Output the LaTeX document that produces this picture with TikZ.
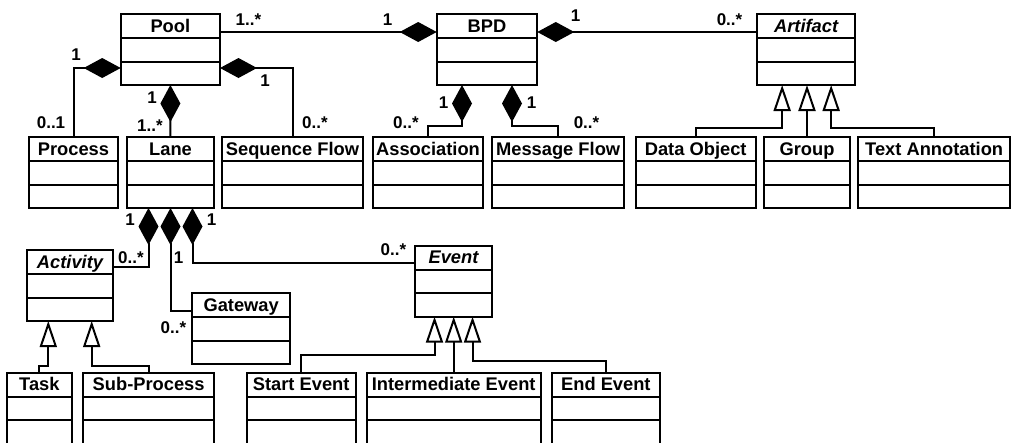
\documentclass[tikz,border=0pt]{standalone}
\usepackage{fontspec}
\setmainfont{Liberation Sans}
\usetikzlibrary{arrows.meta,calc}
\tikzset{
  clsbox/.style={draw, line width=2pt, rectangle, minimum height=71pt, inner sep=0pt, outer sep=0pt, anchor=north west},
  clstitle/.style={inner sep=0pt, anchor=base, font=\fontsize{18.3}{20}\selectfont\bfseries},
  abstract/.style={font=\fontsize{18.3}{20}\selectfont\bfseries\itshape},
  mult/.style={inner sep=0pt, anchor=base, font=\fontsize{17}{19}\selectfont\bfseries},
  compline/.style={line width=2pt},
  comp/.style={compline, -{Diamond[length=37pt,width=20pt,fill=black]}},
  compstart/.style={compline, {Diamond[length=37pt,width=20pt,fill=black]}-},
  gen/.style={compline, -{Triangle[open,length=26pt,width=17pt,fill=white]}},
}
\newcommand\umlclass[6][clstitle]{%
  \node[clsbox, minimum width={#5-#3}] (#2) at (#3,#4) {};
  \node[#1] (#2-title) at ($(#2.north)+(0,18)$) {#6};
  \draw[compline] ($(#2.north west)+(0,24)$) -- ($(#2.north east)+(0,24)$);
  \draw[compline] ($(#2.north west)+(0,47.5)$) -- ($(#2.north east)+(0,47.5)$);
}
\begin{document}
\begin{tikzpicture}[x=1pt, y=-1pt]
\useasboundingbox (0,0) rectangle (1011,442);
\fill[white] (0,0) rectangle (1011,442);
\clip (0,0) rectangle (1011,442);
% top row
\umlclass{pool}{120.7}{14}{220}{Pool}
\umlclass{bpd}{436.7}{14}{537.3}{BPD}
\umlclass[clstitle,abstract]{artifact}{757}{14}{855.3}{Artifact}
% second row
\umlclass{process}{29}{137}{118}{Process}
\umlclass{lane}{127}{137}{214}{Lane}
\umlclass{seqflow}{222}{137}{363}{Sequence Flow}
\umlclass{assoc}{372.7}{137}{483.3}{Association}
\umlclass{msgflow}{492.3}{137}{624}{Message Flow}
\umlclass{dataobj}{635.7}{137}{755.7}{Data Object}
\umlclass{group}{764}{137}{850}{Group}
\umlclass{textann}{858.3}{137}{1010}{Text Annotation}
% third row
\umlclass[clstitle,abstract]{activity}{26.7}{250}{113.3}{Activity}
\umlclass{gateway}{192.3}{293.3}{290}{Gateway}
\umlclass[clstitle,abstract]{event}{415.3}{245.7}{491.7}{Event}
% bottom row
\umlclass{task}{6.7}{372.5}{72}{Task}
\umlclass{subproc}{83.3}{372.5}{214}{Sub-Process}
\umlclass{start}{246.7}{372.5}{355.7}{Start Event}
\umlclass{inter}{366.7}{372.5}{540.7}{Intermediate Event}
\umlclass{endev}{551.7}{372.5}{660}{End Event}

% compositions
\draw[comp] ($(pool.north east)+(0,18)$) -- ($(bpd.north west)+(0,18)$);
\draw[compstart] ($(bpd.north east)+(0,18)$) -- ($(artifact.north west)+(0,18)$);
\draw[comp] (process.north) |- ($(pool.north west)+(0,54)$);
\draw[comp] (seqflow.north) |- ($(pool.north east)+(0,54)$);
\draw[comp] (lane.north) -- (pool.south);
\draw[comp] (assoc.north) -- ++(0,-11) -| ($(bpd.south)+(-25,0)$);
\draw[comp] (msgflow.north) -- ++(0,-11) -| ($(bpd.south)+(25,0)$);
\draw[comp] ($(activity.north east)+(0,17.3)$) -| ($(lane.south)+(-22,0)$);
\draw[comp] ($(gateway.north west)+(0,17.4)$) -| (lane.south);
\draw[comp] ($(event.north west)+(0,17.6)$) -| ($(lane.south)+(22,0)$);

% generalizations
\draw[gen] (dataobj.north) -- ++(0,-9.3) -| ($(artifact.south)+(-24,0)$);
\draw[gen] (group.north) -- (group.north |- artifact.south);
\draw[gen] (textann.north) -- ++(0,-9.3) -| ($(artifact.south)+(25,0)$);
\draw[gen] (task.north) -- ++(0,-6.7) -| ($(activity.south)+(-21.7,0)$);
\draw[gen] (subproc.north) -- ++(0,-6.7) -| ($(activity.south)+(21.7,0)$);
\draw[gen] (start.north) -- ++(0,-17.5) -| ($(event.south)+(-19,0)$);
\draw[gen] (inter.north) -- (inter.north |- event.south);
\draw[gen] (endev.north) -- ++(0,-11.5) -| ($(event.south)+(19,0)$);

% multiplicities
\node[mult] (m1) at (248.5,25) {1..*};
\node[mult] (m2) at (387.5,25) {1};
\node[mult] (m3) at (575.5,21.7) {1};
\node[mult] (m4) at (729.5,25) {0..*};
\node[mult] (m5) at (76,60) {1};
\node[mult] (m6) at (51,128) {0..1};
\node[mult] (m7) at (265,86.7) {1};
\node[mult] (m8) at (315,128) {0..*};
\node[mult] (m9) at (152,103) {1};
\node[mult] (m10) at (150,131.7) {1..*};
\node[mult] (m11) at (443.5,108.3) {1};
\node[mult] (m12) at (406,128.3) {0..*};
\node[mult] (m13) at (531.5,108.3) {1};
\node[mult] (m14) at (586.5,128.3) {0..*};
\node[mult] (m15) at (130,225) {1};
\node[mult] (m16) at (211.5,225) {1};
\node[mult] (m17) at (131,263.3) {0..*};
\node[mult] (m18) at (178.5,263.3) {1};
\node[mult] (m19) at (173.5,333.3) {0..*};
\node[mult] (m20) at (393.5,255) {0..*};
\end{tikzpicture}
\end{document}
